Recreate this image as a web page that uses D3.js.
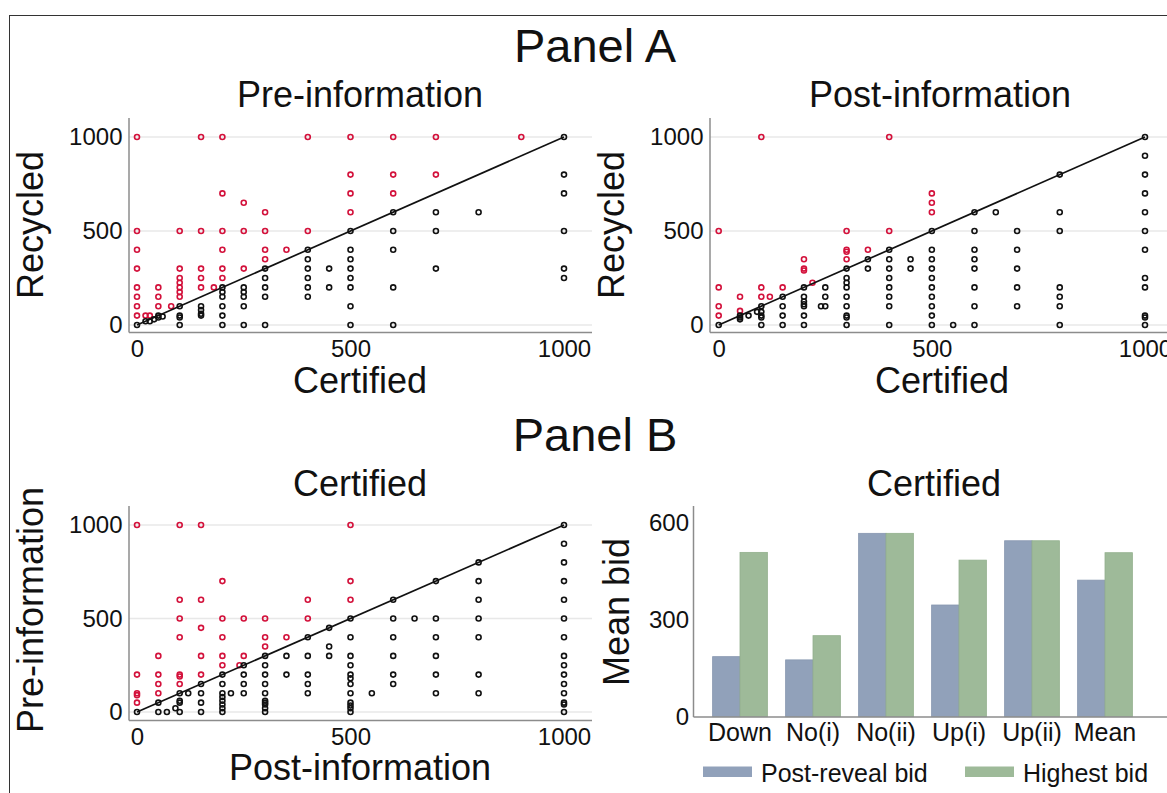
<!DOCTYPE html>
<html>
<head>
<meta charset="utf-8">
<script src="https://cdn.jsdelivr.net/npm/d3@7"></script>
<style>
  body { margin: 0; background: #fff; }
  svg { display: block; }
</style>
</head>
<body>
<svg id="chart" width="1167" height="793"></svg>
<script>
// ---------------------------------------------------------------
// data  ([x, y] pairs, values in the 0..1000 range)
// ---------------------------------------------------------------
const scatterTicks = [0, 500, 1000];

// Panel A left: x = Certified, y = Recycled (pre-information)
const preInfoPoints = [
  [0,1000],[0,500],[0,400],[0,300],[0,200],[0,150],[0,100],[0,50],[0,0],
  [20,50],[30,50],[20,20],[30,20],[40,30],[50,40],[60,45],[50,50],
  [50,200],[50,150],[50,100],[80,100],
  [100,500],[100,300],[100,250],[100,225],[100,200],[100,175],[100,150],
  [100,100],[100,50],[100,40],[100,0],
  [150,1000],[150,500],[150,300],[150,250],[150,200],[150,100],[150,80],[150,60],[150,50],
  [180,200],
  [200,1000],[200,700],[200,500],[200,400],[200,300],[200,250],
  [200,200],[200,175],[200,150],[200,100],[200,50],[200,0],
  [250,650],[250,500],[250,300],[250,200],[250,175],[250,150],[250,100],[250,0],
  [300,600],[300,500],[300,400],[300,350],[300,300],[300,250],[300,200],[300,150],[300,0],
  [350,400],
  [400,1000],[400,500],[400,400],[400,350],[400,300],[400,250],[400,200],[400,150],
  [450,300],[450,200],
  [500,1000],[500,800],[500,700],[500,600],[500,500],[500,400],[500,350],[500,300],
  [500,250],[500,200],[500,100],[500,0],
  [600,1000],[600,800],[600,700],[600,600],[600,500],[600,400],[600,200],[600,0],
  [700,1000],[700,800],[700,600],[700,500],[700,300],
  [800,600],[900,1000],
  [1000,1000],[1000,800],[1000,700],[1000,500],[1000,300],[1000,250]
];

// Panel A right: x = Certified, y = Recycled (post-information)
const postInfoPoints = [
  [0,500],[0,200],[0,100],[0,50],[0,0],
  [50,150],[50,75],[50,50],[50,40],[50,30],[70,50],[90,70],
  [100,1000],[100,200],[100,150],[100,100],[100,70],[100,50],[100,40],[100,0],
  [120,150],
  [150,200],[150,150],[150,100],[150,50],[150,0],
  [200,350],[200,300],[200,290],[220,225],
  [200,200],[200,150],[200,125],[200,110],[200,100],[200,50],[200,0],
  [240,100],[250,100],[250,200],[250,150],
  [300,500],[300,400],[300,390],[300,350],[300,300],[300,250],[300,225],[300,200],
  [300,150],[300,100],[300,50],[300,40],[300,0],
  [350,400],[350,350],[350,300],
  [400,1000],[400,500],[400,400],[400,350],[400,300],[400,250],[400,200],[400,150],[400,100],[400,0],
  [450,350],[450,300],
  [500,700],[500,650],[500,600],[500,500],[500,400],[500,350],[500,300],[500,250],
  [500,200],[500,150],[500,100],[500,50],[500,0],
  [550,0],
  [600,600],[600,500],[600,400],[600,350],[600,300],[600,200],[600,100],[600,0],
  [650,600],
  [700,500],[700,400],[700,300],[700,200],[700,100],
  [800,800],[800,600],[800,500],[800,200],[800,150],[800,100],[800,0],
  [1000,1000],[1000,900],[1000,800],[1000,700],[1000,600],[1000,500],[1000,400],
  [1000,250],[1000,200],[1000,50],[1000,40],[1000,0]
];

// Panel B left: x = Post-information, y = Pre-information (certified)
const certifiedPoints = [
  [0,1000],[0,200],[0,100],[0,90],[0,50],[0,0],
  [50,300],[50,200],[50,150],[50,100],[50,50],[50,0],[70,0],[90,20],
  [100,1000],[100,600],[100,500],[100,400],[100,200],[100,190],[100,150],
  [100,100],[100,60],[100,50],[100,0],[120,100],
  [150,1000],[150,600],[150,450],[150,300],[150,200],[150,150],[150,100],[150,50],[150,0],
  [200,700],[200,500],[200,400],[200,300],[200,250],
  [200,200],[200,150],[200,100],[200,80],[200,60],[200,40],[200,20],[200,0],
  [220,100],[240,250],
  [250,500],[250,300],[250,250],[250,200],[250,150],[250,100],
  [300,500],[300,400],[300,350],[300,300],[300,250],[300,200],[300,150],[300,100],
  [300,60],[300,50],[300,40],[300,20],[300,0],
  [350,400],[350,300],[350,200],
  [400,600],[400,500],[400,400],[400,300],[400,200],[400,150],[400,100],
  [450,450],[450,350],[450,300],
  [500,1000],[500,700],[500,600],[500,500],[500,400],[500,300],[500,250],[500,200],
  [500,180],[500,150],[500,100],[500,50],[500,35],[500,20],[500,0],
  [550,100],
  [600,600],[600,500],[600,400],[600,300],[600,200],[600,150],
  [650,500],
  [700,700],[700,500],[700,400],[700,300],[700,200],[700,100],
  [800,800],[800,700],[800,600],[800,500],[800,400],[800,200],[800,100],
  [1000,1000],[1000,900],[1000,800],[1000,700],[1000,600],[1000,500],[1000,400],
  [1000,300],[1000,250],[1000,200],[1000,150],[1000,100],[1000,50],[1000,40],[1000,0]
];

// Panel B right: mean bids
const categories = ["Down", "No(i)", "No(ii)", "Up(i)", "Up(ii)", "Mean"];
const postRevealBid = [186, 176, 568, 346, 545, 423];
const highestBid = [509, 251, 568, 485, 545, 508];
const barTicks = [0, 300, 600];
const seriesNames = ["Post-reveal bid", "Highest bid"];

// ---------------------------------------------------------------
const FONT = "'Liberation Sans', Arial, Helvetica, sans-serif";
const RED = "#d3113b";
const BLUE = "#91a1ba";
const GREEN = "#9eba99";

const svg = d3.select("#chart").attr("font-family", FONT);

// outer frame
svg.append("rect")
  .attr("x", 9.5).attr("y", 15.5)
  .attr("width", 1200).attr("height", 800)
  .attr("fill", "none").attr("stroke", "#333").attr("stroke-width", 1);

function label(txt, x, y, size, rotate) {
  const t = svg.append("text")
    .attr("text-anchor", "middle")
    .attr("font-size", size)
    .attr("fill", "#111")
    .text(txt);
  if (rotate) t.attr("transform", `translate(${x},${y}) rotate(-90)`);
  else t.attr("x", x).attr("y", y);
  return t;
}

function styleAxis(size) {
  return function (g) {
    g.select(".domain").remove();
    g.attr("font-family", FONT).attr("font-size", size);
    g.selectAll("text").attr("fill", "#111");
  };
}

function scatter(points, xRange, yRange, box) {
  const x = d3.scaleLinear().domain([0, 1000]).range(xRange);
  const y = d3.scaleLinear().domain([0, 1000]).range(yRange);
  const g = svg.append("g");

  g.selectAll(".grid")
    .data(scatterTicks)
    .enter().append("line")
    .attr("class", "grid")
    .attr("x1", box.left).attr("x2", box.right)
    .attr("y1", d => y(d)).attr("y2", d => y(d))
    .attr("stroke", "#e8e8e8").attr("stroke-width", 1.3);

  // spines
  g.append("line")
    .attr("x1", box.left).attr("x2", box.left)
    .attr("y1", box.top).attr("y2", box.bottom)
    .attr("stroke", "#8c8c8c").attr("stroke-width", 1.5);
  g.append("line")
    .attr("x1", box.left).attr("x2", box.right)
    .attr("y1", box.bottom).attr("y2", box.bottom)
    .attr("stroke", "#8c8c8c").attr("stroke-width", 1.5);

  g.append("g")
    .attr("transform", `translate(${box.left - 0.5},0)`)
    .call(d3.axisLeft(y).tickValues(scatterTicks).tickSize(0).tickPadding(6).tickFormat(d3.format("d")))
    .call(styleAxis(24));

  g.append("g")
    .attr("transform", `translate(0,${box.bottom})`)
    .call(d3.axisBottom(x).tickValues(scatterTicks).tickSize(0).tickPadding(7).tickFormat(d3.format("d")))
    .call(styleAxis(24));

  g.selectAll(".pt")
    .data(points)
    .enter().append("circle")
    .attr("class", "pt")
    .attr("cx", d => x(d[0]))
    .attr("cy", d => y(d[1]))
    .attr("r", 2.5)
    .attr("fill", "none")
    .attr("stroke", d => d[1] > d[0] ? RED : "#111")
    .attr("stroke-width", 1.6);

  // 45 degree line
  g.append("line")
    .attr("x1", x(0)).attr("y1", y(0))
    .attr("x2", x(1000)).attr("y2", y(1000))
    .attr("stroke", "#111").attr("stroke-width", 1.7);
}

scatter(preInfoPoints, [137, 564], [325, 137], { left: 129, right: 592, top: 118, bottom: 332.5 });
scatter(postInfoPoints, [718.7, 1145], [325, 137], { left: 710, right: 1167, top: 118, bottom: 332.5 });
scatter(certifiedPoints, [137, 564], [712, 525], { left: 129, right: 592, top: 506, bottom: 720.5 });

// ---------------------------------------------------------------
// bar chart
const xb = d3.scaleBand().domain(categories).range([703.5, 1141.5]).paddingInner(0.25).paddingOuter(0.125);
const xs = d3.scaleBand().domain(seriesNames).range([0, xb.bandwidth()]);
const yb = d3.scaleLinear().domain([0, 600]).range([716.7, 523]);

const bars = svg.append("g");
const barData = categories.map((c, i) => ({ cat: c, values: [postRevealBid[i], highestBid[i]] }));
const groups = bars.selectAll(".grp")
  .data(barData)
  .enter().append("g")
  .attr("class", "grp")
  .attr("transform", d => `translate(${xb(d.cat)},0)`);
groups.selectAll("rect")
  .data(d => d.values.map((v, k) => ({ s: seriesNames[k], v: v })))
  .enter().append("rect")
  .attr("x", d => xs(d.s))
  .attr("y", d => yb(d.v))
  .attr("width", xs.bandwidth())
  .attr("height", d => yb(0) - yb(d.v))
  .attr("fill", d => d.s === seriesNames[0] ? BLUE : GREEN)
  .attr("stroke", d => d.s === seriesNames[0] ? "#8797b0" : "#92b08d")
  .attr("stroke-width", 0.8);

bars.append("line")
  .attr("x1", 693.5).attr("x2", 693.5).attr("y1", 506).attr("y2", 717)
  .attr("stroke", "#8c8c8c").attr("stroke-width", 1.5);
bars.append("line")
  .attr("x1", 693.5).attr("x2", 1167).attr("y1", 717).attr("y2", 717)
  .attr("stroke", "#8c8c8c").attr("stroke-width", 1.5);

bars.append("g")
  .attr("transform", "translate(693,0)")
  .call(d3.axisLeft(yb).tickValues(barTicks).tickSize(0).tickPadding(4))
  .call(styleAxis(24));
bars.append("g")
  .attr("transform", "translate(0,717)")
  .call(d3.axisBottom(xb).tickSize(0).tickPadding(6))
  .call(styleAxis(25));

// legend
const legendX = [703, 965];
const legend = svg.selectAll(".leg")
  .data(seriesNames)
  .enter().append("g")
  .attr("class", "leg")
  .attr("transform", (d, i) => `translate(${legendX[i]},766.5)`);
legend.append("rect")
  .attr("width", 49).attr("height", 10.5)
  .attr("fill", (d, i) => i === 0 ? BLUE : GREEN);
legend.append("text")
  .attr("x", 58).attr("y", 15)
  .attr("font-size", 25).attr("fill", "#111")
  .text(d => d);

// ---------------------------------------------------------------
// titles
label("Panel A", 595, 62, 47);
label("Panel B", 595, 451, 47);
label("Pre-information", 360, 107, 36);
label("Post-information", 940, 107, 36);
label("Certified", 360, 393, 36);
label("Certified", 942, 393, 36);
label("Certified", 360, 496, 36);
label("Certified", 934, 496, 36);
label("Post-information", 360, 780, 36);
label("Recycled", 43, 225, 36, true);
label("Recycled", 624, 225, 36, true);
label("Pre-information", 43, 610, 36, true);
label("Mean bid", 629, 612, 36, true);
</script>
</body>
</html>
